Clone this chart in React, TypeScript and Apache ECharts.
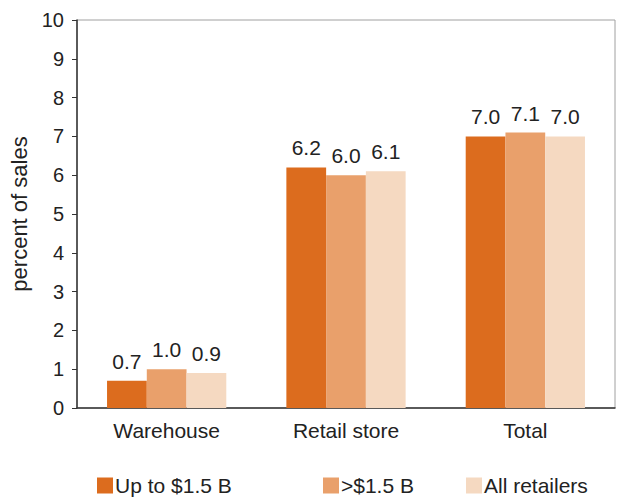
import React, { useEffect, useRef } from "react";
import * as echarts from "echarts";

const categories = ["Warehouse", "Retail store", "Total"];
const seriesNames = ["Up to $1.5 B", ">$1.5 B", "All retailers"];
const upTo15B = [0.7, 6.2, 7.0];
const over15B = [1.0, 6.0, 7.1];
const allRetailers = [0.9, 6.1, 7.0];
const colors = ["#DC6C1E", "#E9A06B", "#F5D9C1"];
const yTicks = { min: 0, max: 10, interval: 1 };
const legendLefts = [97, 323, 466];

const FONT = "Liberation Sans, Arial, Helvetica, sans-serif";

export default function App() {
  const ref = useRef<HTMLDivElement>(null);
  useEffect(() => {
    if (!ref.current) return;
    const chart = echarts.init(ref.current, null, { renderer: "svg" });
    const values = [upTo15B, over15B, allRetailers];
    chart.setOption({
      animation: false,
      backgroundColor: "#ffffff",
      textStyle: { fontFamily: FONT },
      grid: {
        left: 77,
        right: 4,
        top: 20,
        bottom: 89,
        show: true,
        borderColor: "#a0a0a0",
        borderWidth: 1,
      },
      legend: seriesNames.map((n, i) => ({
        data: [n],
        left: legendLefts[i],
        top: 475,
        padding: 0,
        itemWidth: 16,
        itemHeight: 16,
        icon: "rect",
        textStyle: { fontSize: 21, color: "#222", fontFamily: FONT, padding: [0, 0, 0, -3] },
      })),
      xAxis: {
        type: "category",
        data: categories,
        axisLine: { lineStyle: { color: "#333", width: 1.5 } },
        axisTick: { show: false },
        axisLabel: { fontSize: 21, color: "#222", margin: 12, fontFamily: FONT },
      },
      yAxis: {
        type: "value",
        min: yTicks.min,
        max: yTicks.max,
        interval: yTicks.interval,
        name: "percent of sales",
        nameLocation: "middle",
        nameGap: 43,
        nameTextStyle: { fontSize: 22, color: "#222", fontFamily: FONT },
        splitLine: { show: false },
        axisLine: { show: true, lineStyle: { color: "#333", width: 1.5 } },
        axisTick: { show: true, length: 5, lineStyle: { color: "#333" } },
        axisLabel: { fontSize: 20, color: "#222", margin: 13, fontFamily: FONT },
      },
      series: seriesNames.map((n, i) => ({
        name: n,
        type: "bar",
        data: values[i],
        barGap: "0%",
        barCategoryGap: "33.5%",
        itemStyle: { color: colors[i] },
        label: {
          show: true,
          position: "top",
          distance: 9,
          fontSize: 21,
          color: "#222",
          fontFamily: FONT,
          formatter: (p: any) => Number(p.value).toFixed(1),
        },
      })),
    });
    return () => chart.dispose();
  }, []);
  return <div ref={ref} style={{ width: 619, height: 497, position: "absolute", left: 0, top: 0 }} />;
}
